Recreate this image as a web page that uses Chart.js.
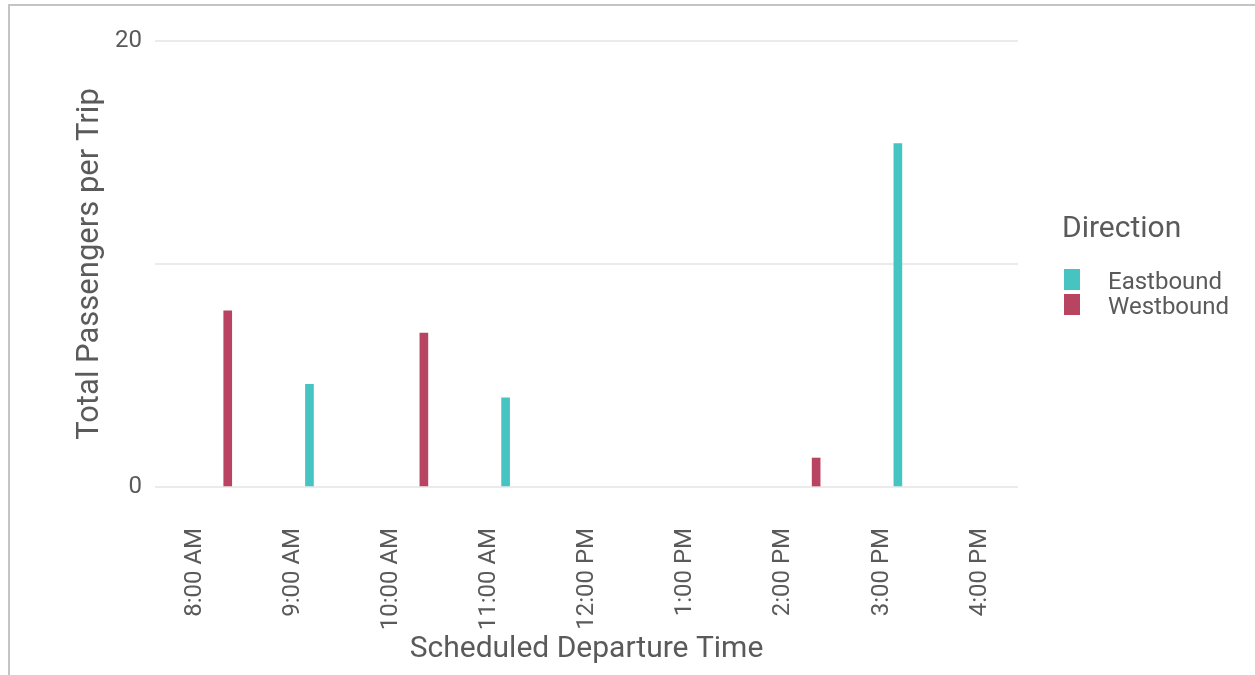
<!DOCTYPE html>
<html>
<head>
<meta charset="utf-8">
<title>Total Passengers per Trip</title>
<script src="https://cdn.jsdelivr.net/npm/chart.js@4.4.1/dist/chart.umd.min.js"></script>
<style>
  html, body { margin: 0; padding: 0; background: #fff; overflow: hidden; }
  .frame { position: absolute; left: 8px; top: 4px; width: 1400px; height: 800px;
           border-top: 2px solid #c4c4c4; border-left: 2px solid #c4c4c4; }
  #chart { position: absolute; left: 0; top: 0; }
</style>
</head>
<body>
<div class="frame"></div>
<canvas id="chart" width="1255" height="675"></canvas>
<script>
// departure times (24h) and average passengers per trip
const eastDepartures = ["9:10", "11:10", "15:10"];
const eastPassengers = [4.6, 4.0, 15.4];
const westDepartures = ["8:20", "10:20", "14:20"];
const westPassengers = [7.9, 6.9, 1.3];

const seriesNames = ["Eastbound", "Westbound"];
const seriesColors = ["#45c4c1", "#b94462"];

const hourTicks = ["8:00", "9:00", "10:00", "11:00", "12:00", "13:00", "14:00", "15:00", "16:00"];
const yTicks = [0, 10, 20];
const yTickLabels = ["0", "", "20"];

const textColor = "#5a5a5a";
Chart.defaults.font.family = "Roboto";
Chart.defaults.color = textColor;

function toMinutes(t) {
  const [h, m] = t.split(":").map(Number);
  return h * 60 + m;
}

function formatTime(min) {
  const h = Math.floor(min / 60);
  const m = String(min % 60).padStart(2, "0");
  return (h % 12 || 12) + ":" + m + " " + (h >= 12 ? "PM" : "AM");
}

function toPoints(times, values) {
  return times.map((t, i) => ({ x: toMinutes(t), y: values[i] }));
}

// legend drawn to the right of the plot, ggplot style
const directionLegend = {
  id: "directionLegend",
  afterDraw(chart) {
    const ctx = chart.ctx;
    ctx.save();
    ctx.textBaseline = "alphabetic";
    ctx.fillStyle = textColor;
    ctx.font = "30px Roboto";
    ctx.fillText("Direction", 1062, 237);
    ctx.font = "24px Roboto";
    chart.data.datasets.forEach((ds, i) => {
      const top = 269 + i * 25;
      ctx.fillStyle = ds.backgroundColor;
      ctx.fillRect(1064, top, 16, 21);
      ctx.fillStyle = textColor;
      ctx.fillText(ds.label, 1108, top + 20);
    });
    ctx.restore();
  },
};

new Chart(document.getElementById("chart"), {
  type: "bar",
  data: {
    datasets: [
      { label: seriesNames[0], data: toPoints(eastDepartures, eastPassengers), backgroundColor: seriesColors[0], barThickness: 8, grouped: false },
      { label: seriesNames[1], data: toPoints(westDepartures, westPassengers), backgroundColor: seriesColors[1], barThickness: 8, grouped: false },
    ],
  },
  options: {
    responsive: false,
    animation: false,
    layout: { padding: { top: 41, right: 237, bottom: 0, left: 0 } },
    plugins: { legend: { display: false }, tooltip: { enabled: false } },
    scales: {
      x: {
        type: "linear",
        min: 455.5,
        max: 983.5,
        offset: false,
        grid: { display: false },
        border: { display: false },
        afterBuildTicks: (scale) => { scale.ticks = hourTicks.map((t) => ({ value: toMinutes(t) })); },
        afterFit: (scale) => { scale.height = 188; },
        ticks: {
          autoSkip: false, minRotation: 90, maxRotation: 90, padding: 33,
          font: { size: 24 }, color: textColor,
          callback: (v) => formatTime(v),
        },
        title: { display: true, text: "Scheduled Departure Time", font: { size: 30 }, color: textColor, padding: { top: 0, bottom: 8 } },
      },
      y: {
        min: 0,
        max: 20,
        grid: { color: "#ebebeb", lineWidth: 2, drawTicks: false },
        border: { display: false },
        afterBuildTicks: (scale) => { scale.ticks = yTicks.map((v) => ({ value: v })); },
        afterFit: (scale) => { scale.width = 155; },
        ticks: { padding: 13, font: { size: 24 }, color: textColor, callback: (v, i) => yTickLabels[i] },
        title: { display: true, text: "Total Passengers per Trip", font: { size: 31 }, color: textColor, padding: { top: 72, bottom: 0 } },
      },
    },
  },
  plugins: [directionLegend],
});
</script>
</body>
</html>
